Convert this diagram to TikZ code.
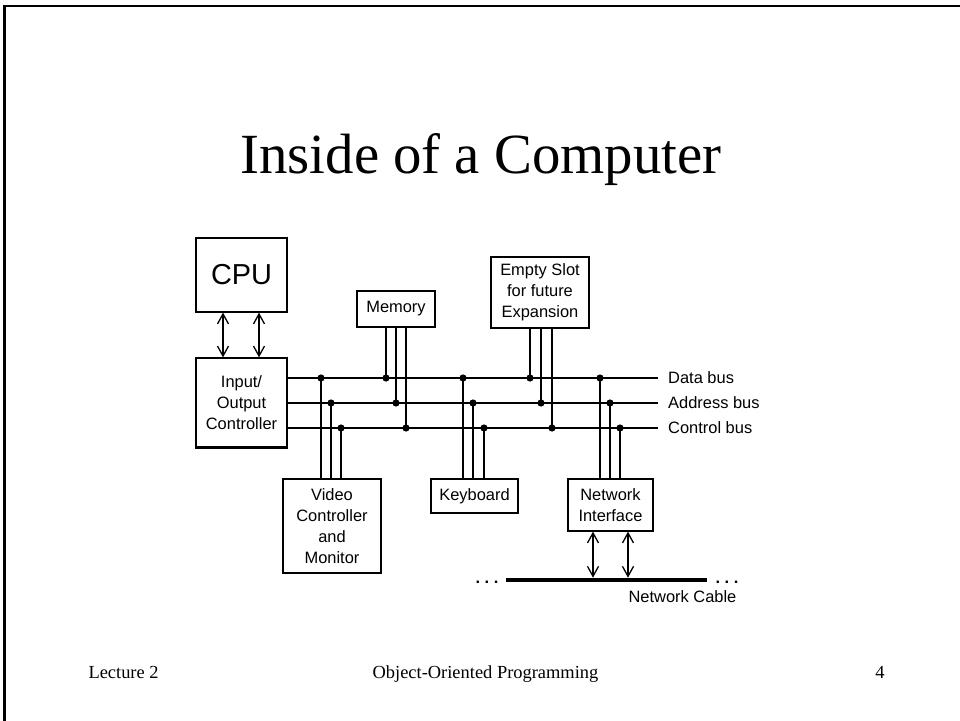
\documentclass[tikz,border=0pt]{standalone}
\usepackage{fontspec}
\setmainfont{Liberation Serif}
\newfontfamily\diagfont{Liberation Sans}
\usetikzlibrary{arrows.meta}

\begin{document}
\begin{tikzpicture}[x=1bp, y=-1bp, >={Straight Barb[length=10bp,width=11bp,line width=1.3bp]},
  every node/.style={font=\diagfont\fontsize{16.5}{21}\selectfont},
  unit/.style={draw, line width=1.2bp, inner sep=0pt, align=center},
  wire/.style={line width=1.2bp},
  buslabel/.style={anchor=west, inner xsep=10bp, inner ysep=0pt},
  slidetext/.style={font=\rmfamily\fontsize{18.5}{22}\selectfont, anchor=base}]
  \useasboundingbox (0,0) rectangle (960,721);
  % slide frame
  \draw[line width=2.5bp] (960,6) -- (4.3,6) -- (4.3,721);
  \node[font=\rmfamily\fontsize{57}{60}\selectfont, anchor=base] (title) at (481,174) {Inside of a Computer};
  % CPU and I/O
  \node[unit, minimum width=91bp, minimum height=74bp, font=\diagfont\fontsize{29}{32}\selectfont] (cpu) at (241.5,275) {CPU};
  \node[unit, minimum width=91bp, minimum height=89bp] (io) at (241.5,402.5) {Input/\\Output\\Controller};
  \draw[line width=2.4bp] (io.south west) -- (io.south east);
  \draw[wire, <->] ([xshift=-18.5bp]cpu.south) -- ([xshift=-18.5bp]io.north);
  \draw[wire, <->] ([xshift=17.5bp]cpu.south) -- ([xshift=17.5bp]io.north);
  % the three buses
  \node[buslabel] (dlab) at (658,378) {Data bus};
  \node[buslabel] (alab) at (658,403) {Address bus};
  \node[buslabel] (clab) at (658,428) {Control bus};
  \draw[wire] (io.east |- dlab.west) -- (dlab.west);
  \draw[wire] (io.east |- alab.west) -- (alab.west);
  \draw[wire] (io.east |- clab.west) -- (clab.west);
  % units on the buses
  \node[unit, minimum width=78bp, minimum height=36bp] (mem) at (396,309) {Memory};
  \node[unit, minimum width=98bp, minimum height=71bp] (slot) at (540,292.5) {Empty Slot\\for future\\Expansion};
  \node[unit, minimum width=98bp, minimum height=94bp] (video) at (332,526) {Video\\Controller\\and\\Monitor};
  \node[unit, minimum width=87bp, minimum height=34bp] (kbd) at (474.5,496) {Keyboard};
  \node[unit, minimum width=85bp, minimum height=52bp] (net) at (610.5,505) {Network\\Interface};
  % taps: video
  \coordinate (v1) at (321,378); \coordinate (v2) at (331,403); \coordinate (v3) at (341,428);
  \draw[wire] (v1) -- (v1 |- video.north) (v2) -- (v2 |- video.north) (v3) -- (v3 |- video.north);
  \fill (v1) circle (3.6bp) (v2) circle (3.6bp) (v3) circle (3.6bp);
  % taps: memory
  \coordinate (m1) at (386,378); \coordinate (m2) at (396,403); \coordinate (m3) at (406,428);
  \draw[wire] (m1 |- mem.south) -- (m1) (m2 |- mem.south) -- (m2) (m3 |- mem.south) -- (m3);
  \fill (m1) circle (3.6bp) (m2) circle (3.6bp) (m3) circle (3.6bp);
  % taps: keyboard
  \coordinate (k1) at (463,378); \coordinate (k2) at (473,403); \coordinate (k3) at (484,428);
  \draw[wire] (k1) -- (k1 |- kbd.north) (k2) -- (k2 |- kbd.north) (k3) -- (k3 |- kbd.north);
  \fill (k1) circle (3.6bp) (k2) circle (3.6bp) (k3) circle (3.6bp);
  % taps: empty slot
  \coordinate (e1) at (530,378); \coordinate (e2) at (541,403); \coordinate (e3) at (552,428);
  \draw[wire] (e1 |- slot.south) -- (e1) (e2 |- slot.south) -- (e2) (e3 |- slot.south) -- (e3);
  \fill (e1) circle (3.6bp) (e2) circle (3.6bp) (e3) circle (3.6bp);
  % taps: network
  \coordinate (n1) at (600,378); \coordinate (n2) at (610,403); \coordinate (n3) at (620,428);
  \draw[wire] (n1) -- (n1 |- net.north) (n2) -- (n2 |- net.north) (n3) -- (n3 |- net.north);
  \fill (n1) circle (3.6bp) (n2) circle (3.6bp) (n3) circle (3.6bp);
  % network cable
  \coordinate (cabL) at (506,580); \coordinate (cabR) at (707,580);
  \draw[line width=4.5bp] (cabL) -- (cabR);
  \node[anchor=base] (ldots) at (487,583) {\textbf{.\ .\ .}};
  \node[anchor=base] (rdots) at (727,583) {\textbf{.\ .\ .}};
  \node (cablab) at (682.5,597) {Network Cable};
  \coordinate (nc1) at (593,577.7); \coordinate (nc2) at (628,577.7);
  \draw[wire, <->] (nc1 |- net.south) -- (nc1);
  \draw[wire, <->] (nc2 |- net.south) -- (nc2);
  % footer
  \node[slidetext, anchor=base west] (lect) at (85,678) {Lecture 2};
  \node[slidetext] (course) at (485.5,678) {Object-Oriented Programming};
  \node[slidetext] (page) at (880,678) {4};
\end{tikzpicture}
\end{document}
